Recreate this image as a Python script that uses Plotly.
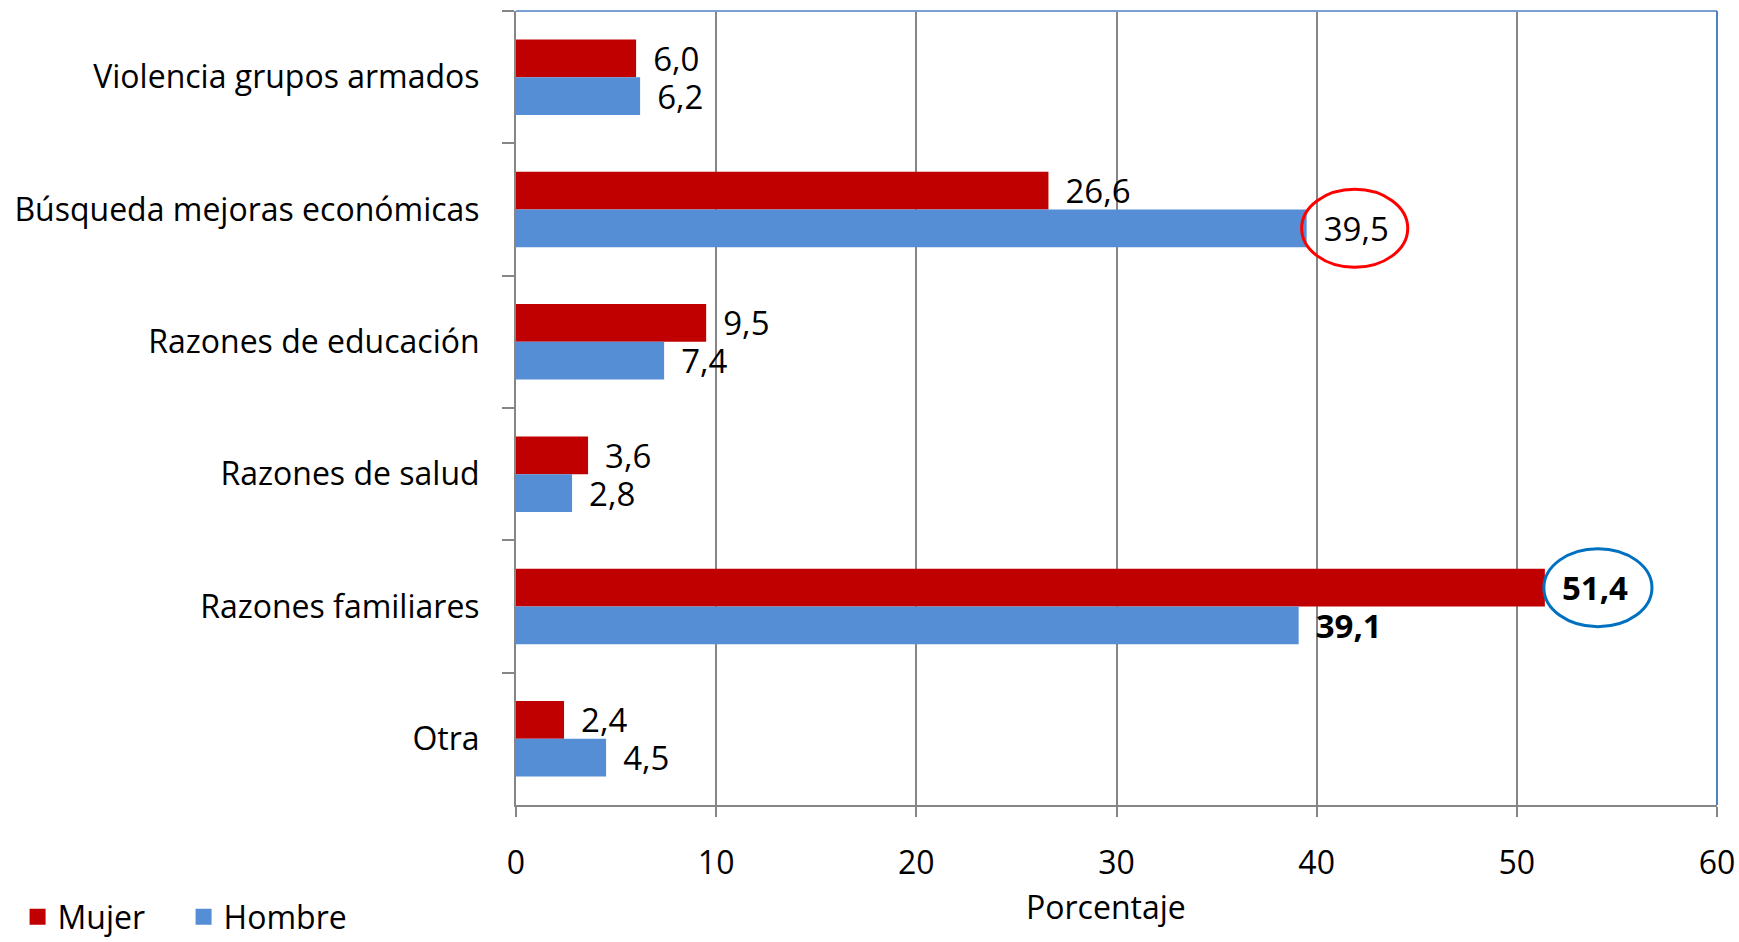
import plotly.graph_objects as go

categories = ["Violencia grupos armados", "Búsqueda mejoras económicas", "Razones de educación",
              "Razones de salud", "Razones familiares", "Otra"]
mujer = [6.0, 26.6, 9.5, 3.6, 51.4, 2.4]
hombre = [6.2, 39.5, 7.4, 2.8, 39.1, 4.5]
bold_cat = "Razones familiares"
x_ticks = [0, 10, 20, 30, 40, 50, 60]

FONT = "Open Sans"
FS = 32
LFS = 33
RED = "#C00000"
BLUE = "#558ED5"

def labels(vals):
    out = []
    for c, v in zip(categories, vals):
        s = f"{v:.1f}".replace(".", ",")
        s = f"<b>{s}</b>" if c == bold_cat else s
        out.append("\u00a0\u2009" + s)
    return out

fig = go.Figure()
fig.add_trace(go.Bar(y=categories, x=mujer, orientation="h", name="Mujer",
                     marker=dict(color=RED, line=dict(width=0)), text=labels(mujer),
                     textposition="outside", cliponaxis=False, showlegend=False,
                     constraintext="none",
                     textfont=dict(family=FONT, size=LFS, color="black")))
fig.add_trace(go.Bar(y=categories, x=hombre, orientation="h", name="Hombre",
                     marker=dict(color=BLUE, line=dict(width=0)), text=labels(hombre),
                     textposition="outside", cliponaxis=False, showlegend=False,
                     constraintext="none",
                     textfont=dict(family=FONT, size=LFS, color="black")))
# legend entries with larger square symbols
for nm, col in (("Mujer", RED), ("Hombre", BLUE)):
    fig.add_trace(go.Scatter(x=[None], y=[None], mode="markers", name=nm,
                             marker=dict(symbol="square", size=20, color=col)))

# highlight ellipses
i_b = categories.index("Búsqueda mejoras económicas")
i_f = categories.index("Razones familiares")
fig.add_shape(type="circle", xref="x", yref="y",
              x0=hombre[i_b] + 2.4 - 2.65, x1=hombre[i_b] + 2.4 + 2.65,
              y0=i_b + 0.142 - 0.295, y1=i_b + 0.142 + 0.295,
              line=dict(color="#FF0000", width=3))
fig.add_shape(type="circle", xref="x", yref="y",
              x0=mujer[i_f] + 2.65 - 2.7, x1=mujer[i_f] + 2.65 + 2.7,
              y0=i_f - 0.142 - 0.295, y1=i_f - 0.142 + 0.295,
              line=dict(color="#0070C0", width=3))
# blue top/right border
fig.add_shape(type="line", xref="paper", yref="paper", x0=0, x1=1, y0=1, y1=1,
              line=dict(color="#7A9FD0", width=2))
fig.add_shape(type="line", xref="paper", yref="paper", x0=1, x1=1, y0=0, y1=1,
              line=dict(color="#4F81BD", width=2))

fig.add_annotation(text="Porcentaje", xref="paper", yref="paper", x=0.491, y=-0.128,
                   xanchor="center", yanchor="middle", showarrow=False,
                   font=dict(family=FONT, size=FS, color="black"))

fig.update_layout(
    width=1739, height=942,
    margin=dict(l=516, r=22, t=11, b=137, autoexpand=False),
    barmode="group", bargap=0.43, bargroupgap=0,
    plot_bgcolor="white", paper_bgcolor="white",
    font=dict(family=FONT, size=FS, color="black"),
    showlegend=True,
    legend=dict(orientation="h", x=-0.415, xanchor="left", y=-0.141, yanchor="middle",
                font=dict(family=FONT, size=FS, color="black"),
                traceorder="normal", itemclick=False, itemsizing="trace",
                entrywidth=121, tracegroupgap=0),
    xaxis=dict(range=[0, 60], tickvals=x_ticks, ticks="outside", ticklen=10,
               tickcolor="#868686", tickwidth=2, showgrid=True, gridcolor="#868686",
               gridwidth=1.5, showline=True, linecolor="#868686", linewidth=2,
               zeroline=False, ticklabelstandoff=19, automargin=False),
    yaxis=dict(autorange="reversed", ticks="outside", ticklen=12, tickson="boundaries",
               tickcolor="#868686", tickwidth=2, showline=True, linecolor="#868686",
               linewidth=2, showgrid=False, ticklabelstandoff=28, automargin=False),
)

fig.write_html("out.html", post_script="document.body.style.margin='0';",
               config={"displayModeBar": False})
